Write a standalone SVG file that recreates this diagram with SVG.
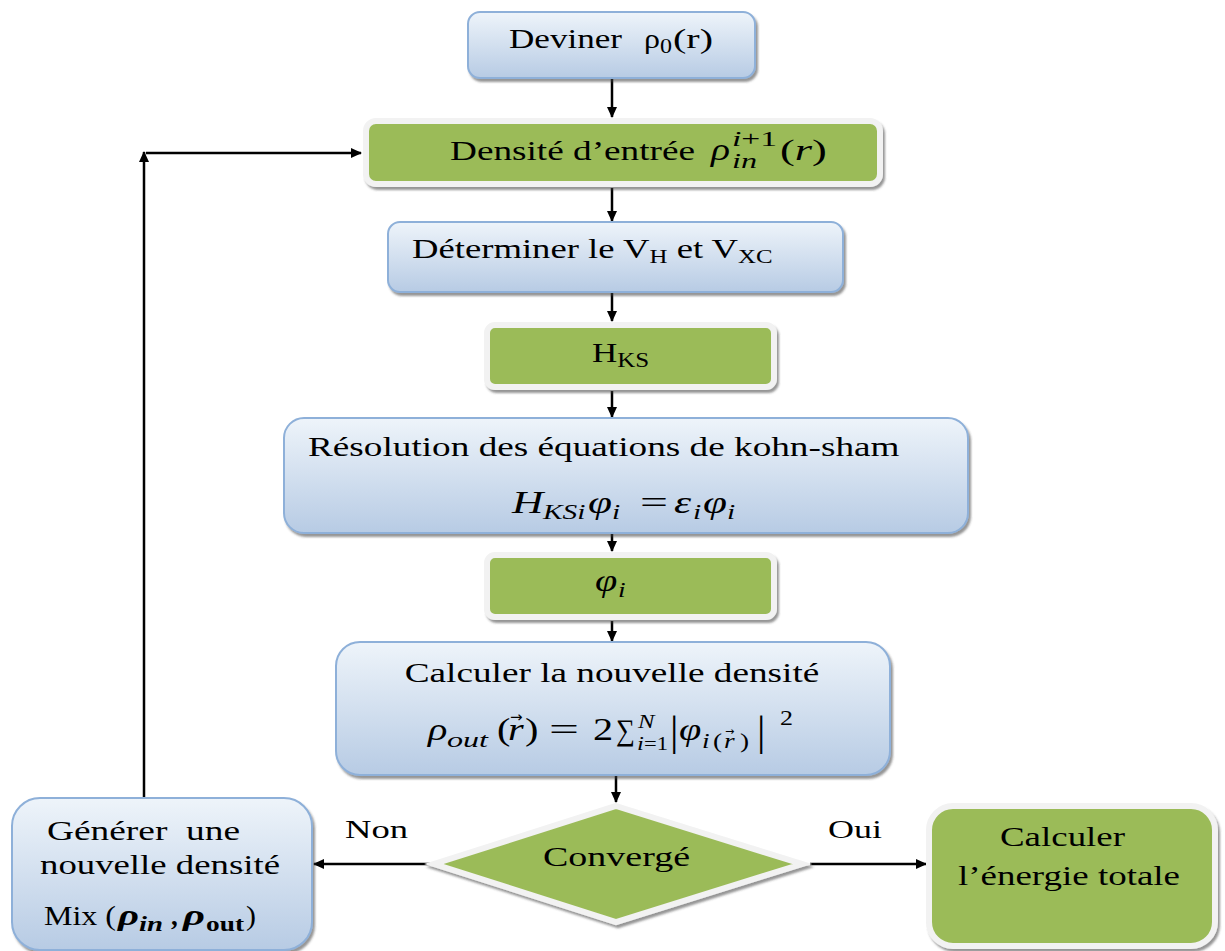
<svg xmlns="http://www.w3.org/2000/svg" width="1225" height="951" viewBox="0 0 1225 951">
<defs>
<linearGradient id="blue" x1="0" y1="0" x2="0" y2="1">
<stop offset="0" stop-color="#eef4fa"/>
<stop offset="1" stop-color="#b7cbe4"/>
</linearGradient>
<filter id="sh" x="-5%" y="-5%" width="115%" height="120%">
<feDropShadow dx="2" dy="3" stdDeviation="1.2" flood-color="#404040" flood-opacity="0.55"/>
</filter>
<marker id="ah" markerWidth="12" markerHeight="12" refX="10" refY="6" orient="auto" markerUnits="userSpaceOnUse">
<path d="M0,1 L11,6 L0,11 Z" fill="#000"/>
</marker>
<style>
.bb{fill:url(#blue);stroke:#8eb0d9;stroke-width:2;filter:url(#sh)}
.gb{fill:#9bbb59;stroke:#f2f2f2;stroke-width:6;filter:url(#sh)}
.t{font-family:"Liberation Serif","Times New Roman",serif;fill:#000;white-space:pre}
.m{font-family:"Liberation Serif","DejaVu Serif",serif;font-style:italic;fill:#000;white-space:pre}
.a{font-family:"DejaVu Sans",sans-serif;fill:#000}
.u{font-style:normal}
.c{stroke:#000;stroke-width:2.5;fill:none}
</style>
</defs>
<rect width="1225" height="951" fill="#fff"/>

<g id="connectors">
<line class="c" x1="612" y1="79" x2="612" y2="117" marker-end="url(#ah)"/>
<line class="c" x1="612" y1="188" x2="612" y2="221" marker-end="url(#ah)"/>
<line class="c" x1="612" y1="293" x2="612" y2="321" marker-end="url(#ah)"/>
<line class="c" x1="612" y1="391" x2="612" y2="417" marker-end="url(#ah)"/>
<line class="c" x1="612" y1="534" x2="612" y2="551" marker-end="url(#ah)"/>
<line class="c" x1="612" y1="621" x2="612" y2="641" marker-end="url(#ah)"/>
<line class="c" x1="616" y1="776" x2="616" y2="802" marker-end="url(#ah)"/>
<line class="c" x1="430" y1="864" x2="314" y2="864" marker-end="url(#ah)"/>
<line class="c" x1="810" y1="864" x2="926" y2="864" marker-end="url(#ah)"/>
<line class="c" x1="144" y1="798" x2="144" y2="152" marker-end="url(#ah)"/>
<line class="c" x1="146" y1="153" x2="361" y2="153" marker-end="url(#ah)"/>
</g>

<g id="n1">
<rect class="bb" x="468" y="12" width="287" height="66" rx="12"/>
<text class="t" x="509" y="48" font-size="27" textLength="113" lengthAdjust="spacingAndGlyphs">Deviner</text>
<text class="t" x="644" y="48" font-size="28" textLength="16" lengthAdjust="spacingAndGlyphs">ρ</text>
<text class="t" x="660" y="53" font-size="20" textLength="12" lengthAdjust="spacingAndGlyphs">0</text>
<text class="t" x="673" y="48" font-size="28" textLength="40" lengthAdjust="spacingAndGlyphs">(r)</text>
</g>

<g id="n2">
<rect class="gb" x="366" y="121" width="514" height="63" rx="10"/>
<text class="t" x="450" y="160" font-size="28" textLength="245" lengthAdjust="spacingAndGlyphs">Densité d’entrée</text>
<text class="m" x="711" y="160" font-size="31" textLength="19" lengthAdjust="spacingAndGlyphs">ρ</text>
<g transform="translate(732,146) scale(1.6,1)"><text class="m" font-size="21">i<tspan class="u">+1</tspan></text></g>
<text class="m" x="732" y="168" font-size="21" textLength="25" lengthAdjust="spacingAndGlyphs">in</text>
<g transform="translate(780,160) scale(1.48,1)"><text class="m" font-size="30"><tspan class="u">(</tspan>r<tspan class="u">)</tspan></text></g>
</g>

<g id="n3">
<rect class="bb" x="388" y="222" width="455" height="70" rx="12"/>
<g transform="translate(412,258) scale(1.31,1)"><text class="t" font-size="28">Déterminer le V<tspan font-size="19" dy="5">H</tspan><tspan dy="-5"> et V</tspan><tspan font-size="19" dy="5">XC</tspan></text></g>
</g>

<g id="n4">
<rect class="gb" x="487" y="325" width="287" height="62" rx="8"/>
<g transform="translate(592,362) scale(1.25,1)"><text class="t" font-size="28">H<tspan font-size="20" dy="5">KS</tspan></text></g>
</g>

<g id="n5">
<rect class="bb" x="284" y="418" width="684" height="115" rx="20"/>
<g transform="translate(308,456) scale(1.33,1)"><text class="t" font-size="28">Résolution des équations de kohn-sham</text></g>
<g transform="translate(512,513) scale(1.4,1)"><text class="m" font-size="31">H</text></g>
<g transform="translate(543,519) scale(1.4,1)"><text class="m" font-size="21">KSi</text></g>
<g transform="translate(588,513) scale(1.4,1)"><text class="m" font-size="31">φ</text></g>
<g transform="translate(612,519) scale(1.4,1)"><text class="m" font-size="21">i</text></g>
<text class="t" x="640" y="513" font-size="31" textLength="28" lengthAdjust="spacingAndGlyphs">=</text>
<g transform="translate(674,513) scale(1.4,1)"><text class="m" font-size="31">ε</text></g>
<g transform="translate(693,519) scale(1.4,1)"><text class="m" font-size="21">i</text></g>
<g transform="translate(703,513) scale(1.4,1)"><text class="m" font-size="31">φ</text></g>
<g transform="translate(727,519) scale(1.4,1)"><text class="m" font-size="21">i</text></g>
</g>

<g id="n6">
<rect class="gb" x="487" y="555" width="287" height="62" rx="8"/>
<g transform="translate(595,591) scale(1.3,1)"><text class="m" font-size="31">φ</text></g>
<g transform="translate(618,597) scale(1.3,1)"><text class="m" font-size="21">i</text></g>
</g>

<g id="n7">
<rect class="bb" x="336" y="642" width="554" height="133" rx="24"/>
<g transform="translate(612,682) scale(1.33,1)"><text class="t" font-size="28" text-anchor="middle">Calculer la nouvelle densité</text></g>
<g transform="translate(428,740) scale(1.3,1)"><text class="m" font-size="31">ρ</text></g>
<text class="m" x="447" y="747" font-size="21" textLength="41" lengthAdjust="spacingAndGlyphs">out</text>
<g transform="translate(497,740) scale(1.3,1)"><text class="t" font-size="31">(</text></g>
<g transform="translate(508,740) scale(1.3,1)"><text class="m" font-size="31">r</text></g>
<text class="a" x="510" y="722" font-size="15">→</text>
<g transform="translate(525,740) scale(1.3,1)"><text class="t" font-size="31">)</text></g>
<text class="t" x="549" y="740" font-size="31" textLength="30" lengthAdjust="spacingAndGlyphs">=</text>
<g transform="translate(593,740) scale(1.3,1)"><text class="t" font-size="31">2</text></g>
<text class="t" x="616" y="740" font-size="30" textLength="19" lengthAdjust="spacingAndGlyphs">∑</text>
<g transform="translate(638,728) scale(1.3,1)"><text class="m" font-size="19">N</text></g>
<g transform="translate(637,750) scale(1.3,1)"><text class="m" font-size="19">i</text></g>
<text class="t" x="644" y="750" font-size="19" textLength="24" lengthAdjust="spacingAndGlyphs">=1</text>
<text class="t" x="670" y="745" font-size="42">|</text>
<g transform="translate(679,740) scale(1.3,1)"><text class="m" font-size="31">φ</text></g>
<g transform="translate(702,748) scale(1.3,1)"><text class="m" font-size="21">i</text></g>
<g transform="translate(713,748) scale(1.3,1)"><text class="t" font-size="21">(</text></g>
<g transform="translate(724,748) scale(1.3,1)"><text class="m" font-size="21">r</text></g>
<text class="a" x="725" y="735" font-size="11">→</text>
<g transform="translate(740,748) scale(1.3,1)"><text class="t" font-size="21">)</text></g>
<text class="t" x="757" y="745" font-size="42">|</text>
<g transform="translate(780,725) scale(1.3,1)"><text class="t" font-size="20">2</text></g>
</g>

<g id="n8">
<polygon class="gb" points="616,806 802,864 616,922 434,864"/>
<text class="t" x="543" y="866" font-size="28" textLength="147" lengthAdjust="spacingAndGlyphs">Convergé</text>
</g>

<g id="lbl">
<text class="t" x="345" y="838" font-size="26" textLength="63" lengthAdjust="spacingAndGlyphs">Non</text>
<text class="t" x="828" y="838" font-size="26" textLength="54" lengthAdjust="spacingAndGlyphs">Oui</text>
</g>

<g id="n9">
<rect class="bb" x="12" y="798" width="300" height="152" rx="28"/>
<text class="t" x="47" y="840" font-size="28" textLength="193" lengthAdjust="spacingAndGlyphs">Générer  une</text>
<text class="t" x="40" y="874" font-size="28" textLength="240" lengthAdjust="spacingAndGlyphs">nouvelle densité</text>
<text class="t" x="44" y="925" font-size="27" textLength="72" lengthAdjust="spacingAndGlyphs">Mix (</text>
<text class="m" x="118" y="925" font-size="30" font-weight="bold" textLength="21" lengthAdjust="spacingAndGlyphs">ρ</text>
<text class="m" x="139" y="931" font-size="20" font-weight="bold" textLength="24" lengthAdjust="spacingAndGlyphs">in</text>
<text class="t" x="171" y="925" font-size="27" font-weight="bold">,</text>
<text class="m" x="183" y="925" font-size="30" font-weight="bold" textLength="22" lengthAdjust="spacingAndGlyphs">ρ</text>
<text class="t" x="206" y="931" font-size="20" font-weight="bold" textLength="38" lengthAdjust="spacingAndGlyphs">out</text>
<text class="t" x="246" y="925" font-size="27" textLength="10" lengthAdjust="spacingAndGlyphs">)</text>
</g>

<g id="n10">
<rect class="gb" x="929" y="806" width="286" height="140" rx="24"/>
<text class="t" x="1000" y="846" font-size="28" textLength="125" lengthAdjust="spacingAndGlyphs">Calculer</text>
<text class="t" x="958" y="885" font-size="28" textLength="222" lengthAdjust="spacingAndGlyphs">l’énergie totale</text>
</g>
</svg>
